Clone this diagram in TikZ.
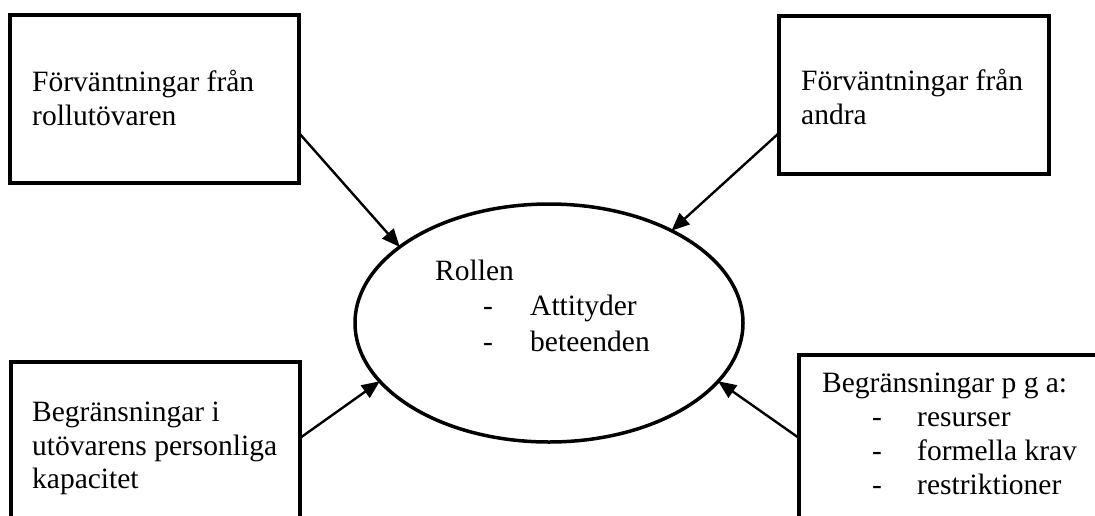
\documentclass[tikz,border=0pt]{standalone}
\usepackage{fontspec}
\setmainfont{Liberation Serif}
\usetikzlibrary{shapes.geometric,arrows.meta,calc}

\begin{document}
\begin{tikzpicture}[x=1pt,y=-1pt,
  box/.style={draw,line width=3.5pt,rectangle,anchor=north west,inner sep=0pt,outer sep=0pt},
  oval/.style={draw,line width=3.5pt,ellipse,inner sep=0pt,outer sep=0pt,
    minimum width=388pt,minimum height=238pt},
  link/.style={line width=2.4pt,-{Triangle[length=18pt,width=15pt]}},
  txt/.style={anchor=base west,inner sep=0pt,font=\fontsize{29.5}{34}\selectfont}]

\useasboundingbox (0,0) rectangle (1095,515);
\clip (0,0) rectangle (1095,515);

% boxes and the central role
\node[box,minimum width=289pt,minimum height=168pt] (tl) at (10,15) {};
\node[box,minimum width=270pt,minimum height=158pt] (tr) at (779,16) {};
\node[box,minimum width=289pt,minimum height=198pt] (bl) at (11,362) {};
\node[box,minimum width=321pt,minimum height=205pt] (br) at (799,355) {};
\node[oval] (el) at (549,323) {};

% texts
\node[txt] (tl1) at (32,91) {Förväntningar från};
\node[txt] (tl2) at (32,125) {rollutövaren};

\node[txt] (tr1) at (801,90) {Förväntningar från};
\node[txt] (tr2) at (801,124) {andra};

\node[txt] (bl1) at (32,421) {Begränsningar i};
\node[txt] (bl2) at (32,455) {utövarens personliga};
\node[txt] (bl3) at (32,488) {kapacitet};

\node[txt] (br1) at (822,392) {Begränsningar p g a:};
\node[txt] (brd1) at (872,426) {-};
\node[txt] (br2) at (917,426) {resurser};
\node[txt] (brd2) at (872,460) {-};
\node[txt] (br3) at (917,460) {formella krav};
\node[txt] (brd3) at (872,494) {-};
\node[txt] (br4) at (917,494) {restriktioner};

\node[txt] (el1) at (435,280) {Rollen};
\node[txt] (eld1) at (483,315) {-};
\node[txt] (el2) at (530,315) {Attityder};
\node[txt] (eld2) at (483,351) {-};
\node[txt] (el3) at (530,351) {beteenden};

% influences on the role
\draw[link] ($(tl.north east)+(0,118)$) -- (el.153);
\draw[link] ($(tr.north west)+(0,117)$) -- (el.37);
\draw[link] ($(bl.north east)+(0,76)$) -- (el.199);
\draw[link] ($(br.north west)+(0,83)$) -- (el.341);
\end{tikzpicture}
\end{document}
